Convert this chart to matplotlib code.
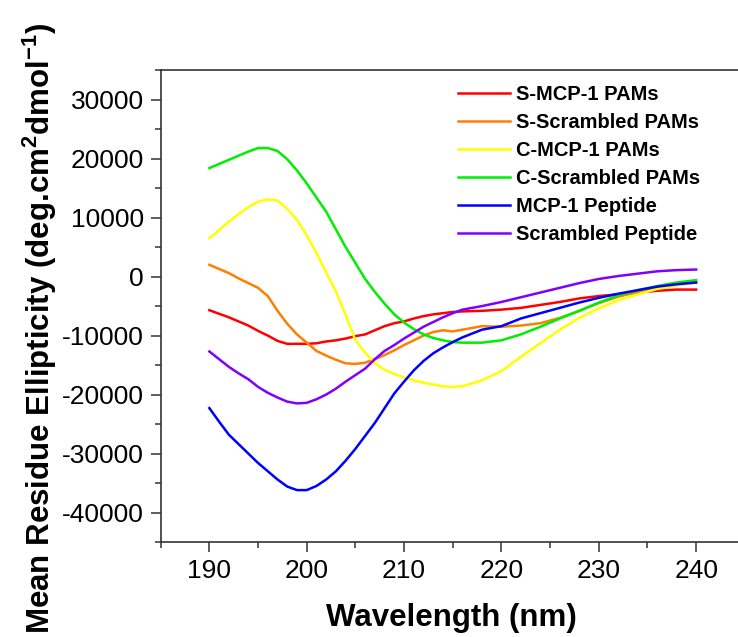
import numpy as np
import matplotlib
matplotlib.use("Agg")
import matplotlib.pyplot as plt
from matplotlib.ticker import MultipleLocator

plt.rcParams['font.family'] = ['Liberation Sans', 'DejaVu Sans']
plt.rcParams['mathtext.fontset'] = 'custom'
plt.rcParams['mathtext.rm'] = 'Liberation Sans'
plt.rcParams['mathtext.bf'] = 'Liberation Sans:bold'
plt.rcParams['axes.unicode_minus'] = False

# wavelength grid (nm)
wavelength = [190, 191, 192, 193, 194, 195, 196, 197, 198, 199, 200, 201, 202,
              203, 204, 205, 206, 207, 208, 209, 210, 211, 212, 213, 214, 215,
              216, 218, 220, 222, 224, 226, 228, 230, 232, 234, 236, 238, 240]

s_mcp1_pams = [-5700, -6300, -6900, -7600, -8300, -9200, -10000, -10900, -11400,
               -11400, -11400, -11300, -11000, -10800, -10500, -10100, -9800,
               -9100, -8400, -7900, -7600, -7100, -6700, -6400, -6200, -6000,
               -5900, -5800, -5600, -5300, -4800, -4300, -3700, -3300, -3000,
               -2700, -2400, -2200, -2200]
s_scrambled_pams = [2000, 1300, 600, -300, -1100, -1900, -3300, -5800, -8000,
                    -9800, -11200, -12600, -13400, -14100, -14700, -14800,
                    -14600, -14000, -13300, -12500, -11600, -10800, -10000,
                    -9400, -9100, -9300, -9000, -8400, -8500, -8300, -7900,
                    -7000, -5800, -4500, -3400, -2600, -1900, -1400, -1000]
c_mcp1_pams = [6500, 7900, 9300, 10600, 11800, 12700, 13100, 12900, 11500, 9600,
               7000, 4000, 700, -2500, -6500, -10800, -12900, -14700, -15800,
               -16500, -17100, -17600, -18000, -18300, -18600, -18700, -18600,
               -17600, -16000, -13600, -11300, -9000, -7000, -5400, -4000,
               -3000, -2100, -1500, -1000]
c_scrambled_pams = [18400, 19100, 19800, 20500, 21200, 21800, 21800, 21300,
                    19900, 18000, 15800, 13400, 11000, 8000, 5000, 2300, -400,
                    -2600, -4600, -6400, -7800, -8900, -9800, -10400, -10800,
                    -11100, -11200, -11200, -10800, -9800, -8500, -7100, -5800,
                    -4400, -3200, -2300, -1600, -1000, -600]
mcp1_peptide = [-22300, -24600, -26800, -28400, -30000, -31600, -33000, -34400,
                -35600, -36200, -36200, -35500, -34400, -33000, -31200, -29200,
                -27000, -24800, -22300, -19800, -17800, -15900, -14300, -13000,
                -12000, -11100, -10300, -9000, -8400, -7100, -6200, -5300,
                -4400, -3600, -2900, -2300, -1700, -1300, -1000]
scrambled_peptide = [-12700, -14000, -15300, -16400, -17400, -18700, -19700,
                     -20500, -21200, -21500, -21400, -20800, -20000, -19000,
                     -17800, -16700, -15600, -14000, -12600, -11600, -10500,
                     -9500, -8500, -7700, -6900, -6200, -5600, -5000, -4300,
                     -3500, -2700, -1900, -1100, -400, 100, 500, 900, 1100, 1200]

labels = ['S-MCP-1 PAMs', 'S-Scrambled PAMs', 'C-MCP-1 PAMs',
          'C-Scrambled PAMs', 'MCP-1 Peptide', 'Scrambled Peptide']
series = [s_mcp1_pams, s_scrambled_pams, c_mcp1_pams, c_scrambled_pams,
          mcp1_peptide, scrambled_peptide]
colors = ['#ff0000', '#ff7f00', '#ffff00', '#00ee00', '#0000ff', '#8000ff']

fig = plt.figure(figsize=(7.38, 6.37), dpi=100)
ax = fig.add_axes([160.7 / 738, 1 - 542 / 637, 1 - 160.7 / 738, (542 - 70.2) / 637])

for vals, lab, col in zip(series, labels, colors):
    ax.plot(wavelength, vals, color=col, lw=1.8, label=lab)

ax.set_xlim(185, 244.3)
ax.set_ylim(-45000, 35000)
ax.xaxis.set_minor_locator(MultipleLocator(5))
ax.yaxis.set_minor_locator(MultipleLocator(5000))
ax.set_yticks(range(-40000, 30001, 10000))
ax.set_xticks(range(190, 241, 10))

for side in ['left', 'bottom', 'top']:
    ax.spines[side].set_linewidth(1.2)
    ax.spines[side].set_color('#333333')
ax.spines['right'].set_visible(False)
ax.tick_params(which='major', direction='out', length=7, width=1.1,
               color='#333333', labelsize=19, pad=5)
ax.tick_params(which='minor', direction='out', length=4, width=1.1,
               color='#333333')

fig.text(451 / 738, 1 - 618 / 637, 'Wavelength (nm)', ha='center', va='center',
         fontsize=22.5, fontweight='bold')
fig.text(40 / 738, 1 - 328 / 637,
         r'Mean Residue Ellipticity (deg.cm$^{\mathbf{2}}$dmol$^{\mathbf{-1}}$)',
         rotation=90, ha='center', va='center', fontsize=22.5, fontweight='bold')

ax.legend(loc='upper left', bbox_to_anchor=(458 / 738, 1 - 85 / 637),
          bbox_transform=fig.transFigure, frameon=False, borderpad=0,
          borderaxespad=0, handlelength=2.6, handletextpad=0.3,
          labelspacing=0.45, prop={'size': 14.5, 'weight': 'bold'})

fig.savefig('out.png', dpi=100)
